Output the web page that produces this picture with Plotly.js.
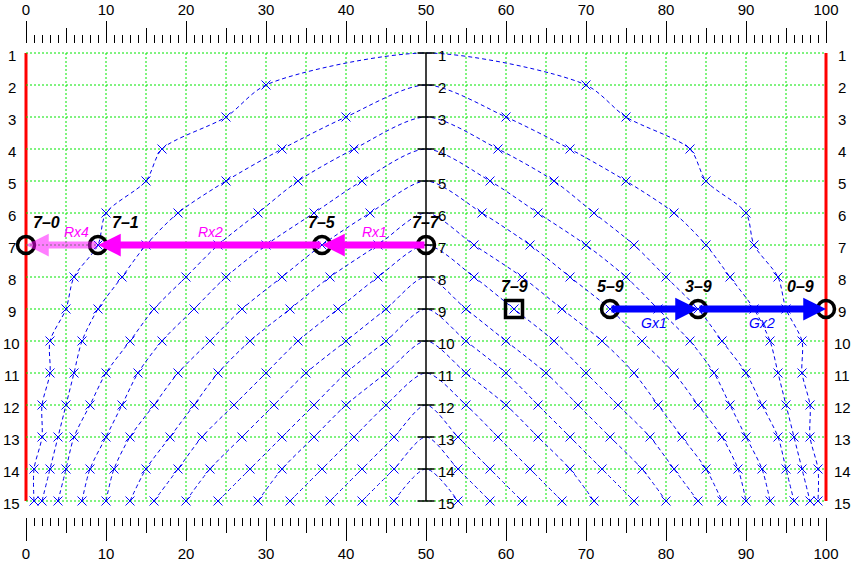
<!DOCTYPE html>
<html>
<head>
<meta charset="utf-8">
<script src="https://cdn.plot.ly/plotly-3.0.1.min.js"></script>
<style>html,body{margin:0;padding:0;background:#fff;}#chart{width:853px;height:563px;}</style>
</head>
<body>
<div id="chart"></div>
<script>
// rows (y values) and left-half x values of each curve; curve k starts at row k on the centre line
const rows = [1,2,3,4,5,6,7,8,9,10,11,12,13,14,15];
const c1  = [50,30,25,17,15,10,9,6,5,3,3,2,2,1,1];
const c2  = [50,40,32,25,19,15,12,9,7,6,5,4,3,2];
const c3  = [50,41,34,29,24,20,16,13,10,8,6,5,4];
const c4  = [50,42,36,30,25,21,17,14,12,10,8,7];
const c5  = [50,43,37,32,27,23,19,16,13,11,10];
const c6  = [50,44,38,33,28,24,21,18,15,13];
const c7  = [50,44,39,34,30,26,22,19,16];
const c8  = [50,45,40,35,31,27,23,20];
const c9  = [50,45,40,36,32,28,24];
const c10 = [50,45,40,36,32,29];
const c11 = [50,45,41,37,33];
const c12 = [50,46,42,38];
const c13 = [50,46,42];
const c14 = [50,46];
const curves = [c1,c2,c3,c4,c5,c6,c7,c8,c9,c10,c11,c12,c13,c14];

const xMin = 0, xMax = 100, xCenter = 50;
const gridX = [5,10,15,20,25,30,35,40,45,55,60,65,70,75,80,85,90,95];

// highlighted states
const hlLabels = ['7–0','7–1','7–5','7–7','7–9','5–9','3–9','0–9'];
const hlRow    = [7,7,7,7,9,9,9,9];
const hlCurve  = [0,1,5,7,7,5,3,0];
const hlSide   = ['L','L','L','L','R','R','R','R'];
const hlSymbol = ['circle-open','circle-open','circle-open','circle-open','square-open','circle-open','circle-open','circle-open'];
const hlXShift = [20,27,0,0,0,0,0,-26];

// arrows between highlighted states (indices into hl arrays)
const arrLabels = ['Rx1','Rx2','Rx4','Gx1','Gx2'];
const arrFrom   = [3,2,1,5,6];
const arrTo     = [2,1,0,6,7];
const arrColor  = ['#ff00ff','#ff00ff','rgba(255,0,255,0.5)','#0000ff','#0000ff'];
const arrLabelColor = ['#ff00ff','#ff00ff','#ff00ff','#0000ff','#0000ff'];
const arrLabelShiftX = [0,0,14,0,0];
const arrLabelShiftY = [13,13,13,-14,-14];

const FONT = 'Liberation Sans, Arial, Helvetica, sans-serif';
const yRange = [15.5, 1-9/32];

function leftX(curve,row){
  if(curve===0) return xMin;
  const arr = curves[curve-1];
  return arr[row-curve];
}
function xOf(curve,row,side){
  if(curve===0) return side==='L'?xMin:xMax;
  const v = leftX(curve,row);
  return side==='L'? v : (xMax - v);
}
function rowToPaper(r){ return (yRange[0]-r)/(yRange[0]-yRange[1]); }

const traces = [];
const mx = [], my = [];
curves.forEach((arr,i)=>{
  const start = i+1;
  const xs=[], ys=[];
  for(let j=arr.length-1;j>=0;j--){ xs.push(arr[j]); ys.push(start+j); }
  for(let j=1;j<arr.length;j++){ xs.push(xMax-arr[j]); ys.push(start+j); }
  traces.push({x:xs,y:ys,type:'scatter',mode:'lines',hoverinfo:'skip',
    line:{color:'#0000ee',width:1,dash:'4px,3px',shape:'spline',smoothing:0.8}});
  for(let j=1;j<arr.length;j++){
    mx.push(arr[j]); my.push(start+j);
    mx.push(xMax-arr[j]); my.push(start+j);
  }
});
traces.push({x:mx,y:my,type:'scatter',mode:'markers',hoverinfo:'skip',
  marker:{symbol:'x-thin',size:9,color:'#0000ff',line:{color:'#0000ff',width:1}}});

// anchor traces for the overlay tick axes (invisible)
['x2','x3'].forEach(a=>traces.push({x:[xMin,xMax],y:[rows[0],rows[0]],xaxis:a,yaxis:'y',type:'scatter',mode:'lines',
  hoverinfo:'skip',line:{color:'rgba(0,0,0,0)',width:0}}));

// highlighted states
const hx = hlLabels.map((l,i)=>xOf(hlCurve[i],hlRow[i],hlSide[i]));
traces.push({x:hx,y:hlRow,xaxis:'x4',yaxis:'y',type:'scatter',mode:'markers',hoverinfo:'skip',cliponaxis:false,
  marker:{symbol:hlSymbol,size:17,color:'#000',line:{color:'#000',width:3.5}}});

const shapes = [];
gridX.forEach(g=>shapes.push({type:'line',xref:'x',yref:'y',x0:g,x1:g,y0:rows[0],y1:rows[rows.length-1],layer:'below',
  line:{color:'#00e600',width:1,dash:'2px,2px'}}));
rows.forEach(r=>shapes.push({type:'line',xref:'x',yref:'y',x0:xMin,x1:xMax,y0:r,y1:r,layer:'below',
  line:{color:'#00e600',width:1,dash:'2px,2px'}}));
// red borders (paper refs so that they are not clipped)
[0,1].forEach(p=>shapes.push({type:'line',xref:'paper',yref:'paper',x0:p,x1:p,
  y0:rowToPaper(rows[0]),y1:rowToPaper(rows[rows.length-1]),layer:'below',line:{color:'#ff0000',width:3}}));
// centre axis
shapes.push({type:'line',xref:'x',yref:'y',x0:xCenter,x1:xCenter,y0:rows[0],y1:rows[rows.length-1],layer:'above',
  line:{color:'#000',width:1.5}});
rows.forEach(r=>shapes.push({type:'line',xref:'x',yref:'y',x0:xCenter-1.06,x1:xCenter+1.06,y0:r,y1:r,layer:'above',
  line:{color:'#000',width:1.5}}));

const ann = [];
const tf = {family:FONT,size:15,color:'#000'};
rows.forEach(r=>{
  ann.push({xref:'paper',yref:'y',x:(12-26)/800,y:r,text:String(r),showarrow:false,xanchor:'center',yanchor:'middle',yshift:-2,font:tf});
  ann.push({xref:'paper',yref:'y',x:(842-26)/800,y:r,text:String(r),showarrow:false,xanchor:'center',yanchor:'middle',yshift:-2,font:tf});
  ann.push({xref:'x',yref:'y',x:xCenter+1.2,y:r,text:String(r),showarrow:false,xanchor:'left',yanchor:'middle',yshift:-2,font:tf});
});
arrLabels.forEach((l,i)=>{
  const f = arrFrom[i], t = arrTo[i];
  ann.push({xref:'x',yref:'y',axref:'x',ayref:'y',x:hx[t],y:hlRow[t],ax:hx[f],ay:hlRow[f],text:'',showarrow:true,
    arrowhead:2,arrowsize:0.65,arrowwidth:7,arrowcolor:arrColor[i],standoff:0});
});
arrLabels.forEach((l,i)=>{
  const f = arrFrom[i], t = arrTo[i];
  ann.push({xref:'x',yref:'y',x:(hx[f]+hx[t])/2,y:hlRow[t],text:l,showarrow:false,xshift:arrLabelShiftX[i],yshift:arrLabelShiftY[i],
    font:{family:FONT,size:14,color:arrLabelColor[i],style:'italic'}});
});
hlLabels.forEach((l,i)=>{
  ann.push({xref:'x',yref:'y',x:hx[i],y:hlRow[i],text:l,showarrow:false,xshift:hlXShift[i],yshift:23,
    font:{family:FONT,size:16,color:'#000',weight:'bold',style:'italic'}});
});

const baseX = {range:[xMin,xMax],showgrid:false,zeroline:false,showline:false,ticks:'outside',tickcolor:'#000',tickwidth:1,
  tick0:0,fixedrange:true,tickfont:tf};
const layout = {
  width:853,height:563,margin:{l:26,r:27,t:44,b:46,pad:0},
  paper_bgcolor:'#fff',plot_bgcolor:'#fff',showlegend:false,
  xaxis:Object.assign({},baseX,{side:'bottom',dtick:10,ticklen:23,
    minor:{dtick:1,tick0:0,ticks:'outside',ticklen:8,tickwidth:1,tickcolor:'#000',showgrid:false}}),
  xaxis2:Object.assign({},baseX,{side:'top',overlaying:'x',anchor:'y',dtick:10,ticklen:22,
    minor:{dtick:1,tick0:0,ticks:'outside',ticklen:8,tickwidth:1,tickcolor:'#000',showgrid:false}}),
  xaxis3:Object.assign({},baseX,{side:'bottom',overlaying:'x',anchor:'y',dtick:5,ticklen:15,showticklabels:false}),
  xaxis4:Object.assign({},baseX,{side:'top',overlaying:'x',anchor:'y',dtick:5,ticklen:15,showticklabels:false}),
  yaxis:{range:yRange,showgrid:false,zeroline:false,showline:false,ticks:'',showticklabels:false,fixedrange:true},
  shapes:shapes,annotations:ann
};
Plotly.newPlot('chart',traces,layout,{displayModeBar:false,staticPlot:true});
</script>
</body>
</html>
